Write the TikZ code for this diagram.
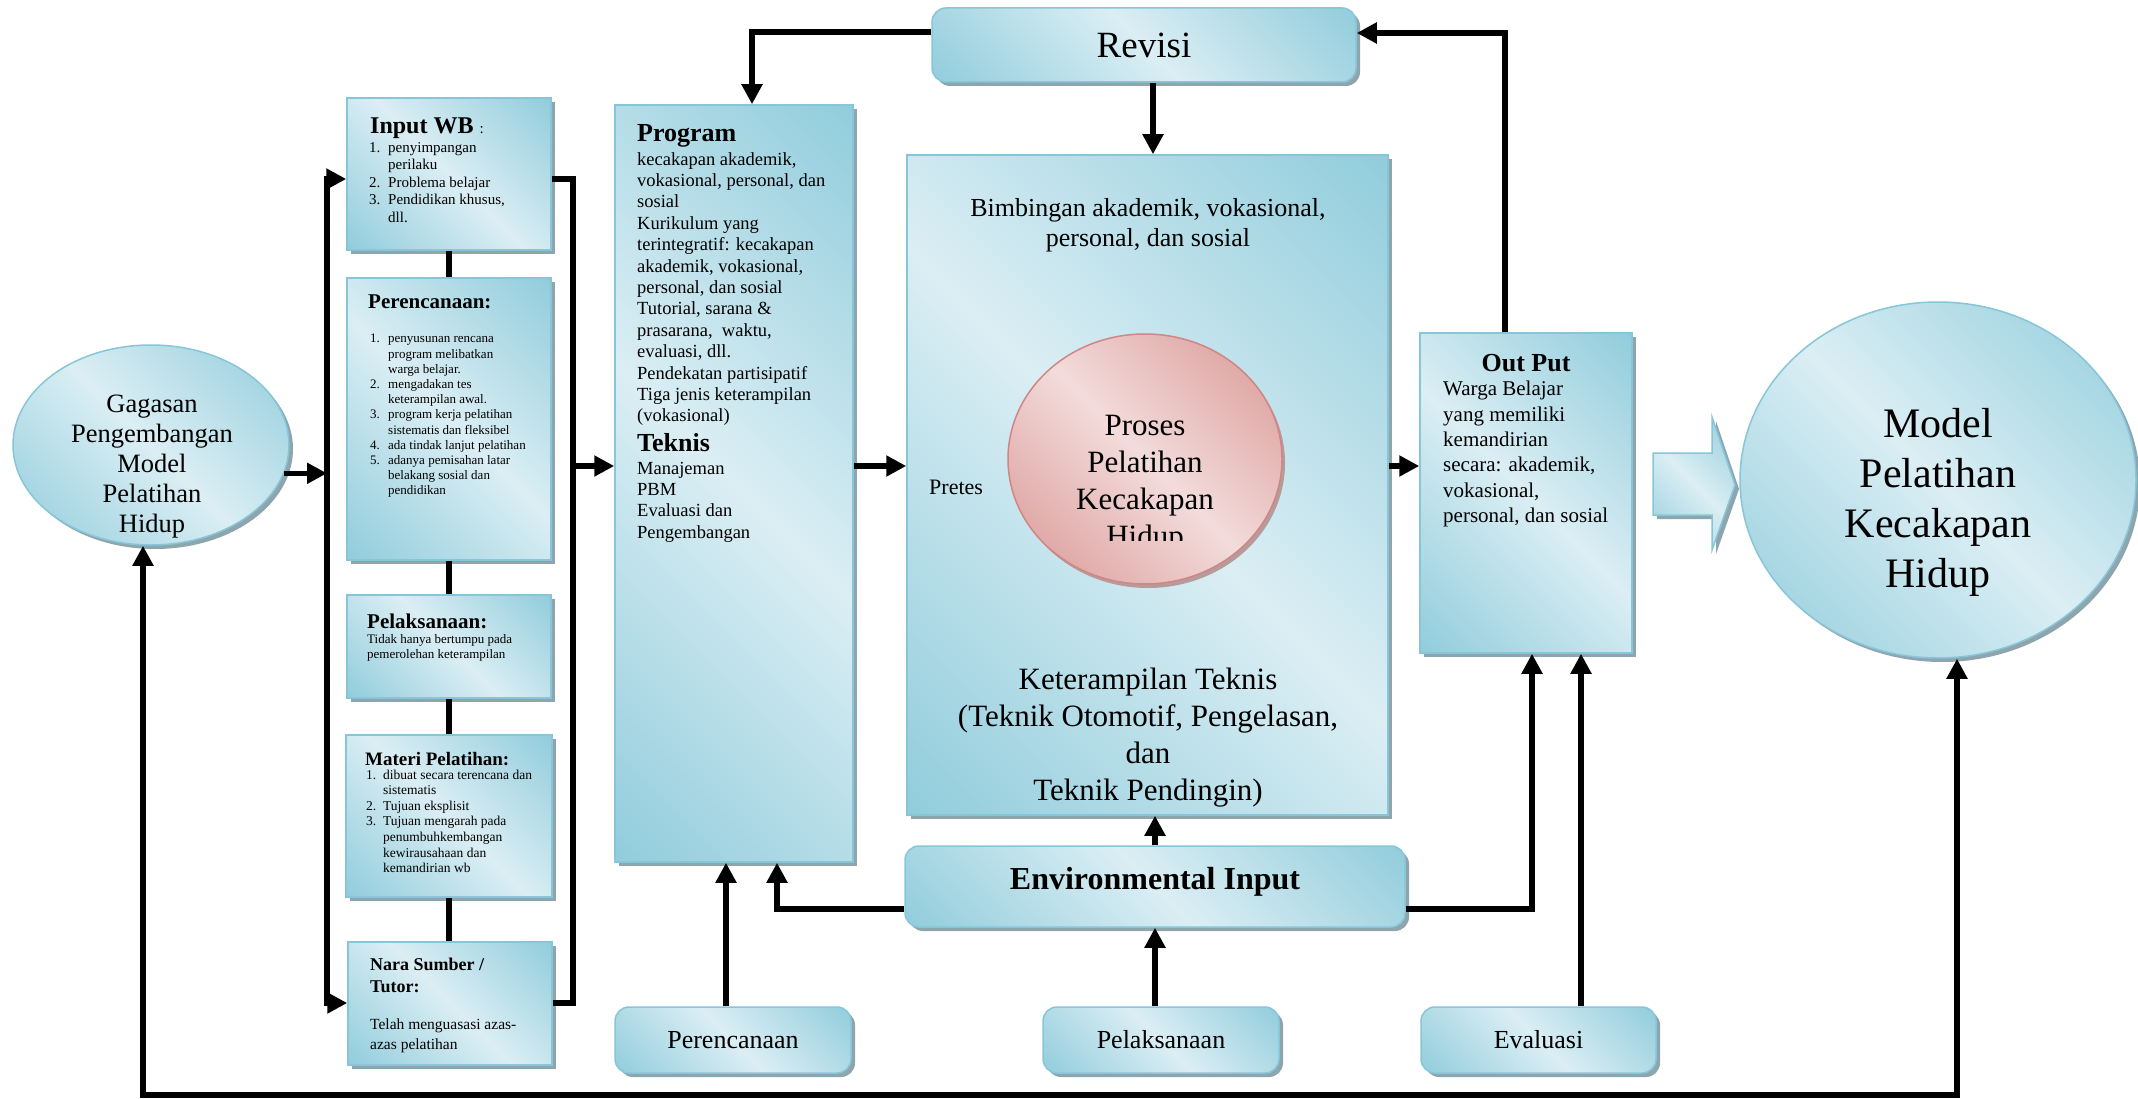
\documentclass[tikz,border=0pt]{standalone}
\usepackage{fontspec}
\setmainfont{Liberation Serif}
\usetikzlibrary{arrows.meta,shapes.geometric,shadows}
\definecolor{bdark}{HTML}{92CDDC}
\definecolor{blight}{HTML}{DBEEF4}
\definecolor{bord}{HTML}{86C6D8}
\definecolor{shadowc}{HTML}{8FA5AE}
\definecolor{pdark}{HTML}{D99694}
\definecolor{plight}{HTML}{F2DCDB}
\definecolor{pbord}{HTML}{D08684}
\definecolor{pshadow}{HTML}{B59C9C}
\pgfdeclarehorizontalshading{blueglass}{100bp}{color(0bp)=(bdark); color(15bp)=(bdark); color(50bp)=(blight); color(85bp)=(bdark); color(100bp)=(bdark)}
\pgfdeclarehorizontalshading{pinkglass}{100bp}{color(0bp)=(pdark); color(15bp)=(pdark); color(50bp)=(plight); color(85bp)=(pdark); color(100bp)=(pdark)}
\newcommand{\numitem}[2]{\makebox[#1][l]{#2}}
\newcommand{\setfs}[2]{\fontsize{#1}{#2}\selectfont}
\begin{document}
\begin{tikzpicture}[x=1pt,y=-1pt,
  >={Triangle[length=20pt,width=20pt]},
  glass/.style={shading=blueglass, shading angle=45, draw=bord, line width=1.5pt},
  sh/.style={drop shadow={shadow xshift=4pt, shadow yshift=-4pt, fill=shadowc, opacity=1}},
  boxr/.style={glass, sh, rectangle, inner sep=0pt},
  rbox/.style={boxr, rounded corners=14pt},
  oval/.style={glass, sh, ellipse, inner sep=0pt},
  wire/.style={line width=5.5pt},
  conn/.style={wire, ->},
  txt/.style={inner sep=0pt, align=left},
  ctxt/.style={inner sep=0pt, align=center}
]
\useasboundingbox (0,0) rectangle (2138,1099);

% ---------- boxes ----------
\node[oval, minimum width=276pt, minimum height=200pt] (gag) at (151,445) {};
\node[boxr, minimum width=204pt, minimum height=152pt] (inwb) at (449,174) {};
\node[boxr, minimum width=204pt, minimum height=282pt] (perenc) at (449,419) {};
\node[boxr, minimum width=204pt, minimum height=103pt] (pelak) at (449,646.5) {};
\node[boxr, minimum width=206pt, minimum height=162pt] (materi) at (449,816) {};
\node[boxr, minimum width=204pt, minimum height=123pt] (nara) at (450,1003.5) {};
\node[boxr, minimum width=238pt, minimum height=757pt] (prog) at (734,483.5) {};
\node[boxr, minimum width=481pt, minimum height=660pt] (cbox) at (1147.5,485) {};
\node[ellipse, inner sep=0pt, minimum width=274pt, minimum height=250pt,
      shading=pinkglass, shading angle=45, draw=pbord, line width=1.5pt,
      drop shadow={shadow xshift=3pt, shadow yshift=-4pt, fill=pshadow, opacity=1}] (proc) at (1145,459) {};
\node[boxr, minimum width=212pt, minimum height=320pt] (out) at (1526,493) {};
\node[rbox, minimum width=424pt, minimum height=74pt, font=\setfs{37}{42}] (rev) at (1144,45) {Revisi};
\node[rbox, minimum width=500pt, minimum height=81pt] (env) at (1155,886.5) {};
\node[rbox, minimum width=236pt, minimum height=66pt, font=\setfs{26}{30}] (per2) at (733,1040) {Perencanaan};
\node[rbox, minimum width=236pt, minimum height=66pt, font=\setfs{26}{30}] (pel2) at (1161,1040) {Pelaksanaan};
\node[rbox, minimum width=235pt, minimum height=66pt, font=\setfs{26}{30}] (eva) at (1538.5,1040) {Evaluasi};
\node[oval, minimum width=396pt, minimum height=356pt] (model) at (1938,480) {};
\path[glass, sh] (1653,453) -- (1712,453) -- (1712,417) -- (1735,485) -- (1712,550) -- (1712,515) -- (1653,515) -- cycle;

% ---------- texts ----------
\node[ctxt, font=\setfs{32}{36}\bfseries] (t-env) at (1155,882) {Environmental Input};
\node[ctxt, anchor=north, font=\setfs{26.5}{30}] (t-gag) at (152,391) {\strut Gagasan\\Pengembangan\\Model\\Pelatihan\\Hidup};
\node[ctxt, anchor=north, font=\setfs{42}{50}] (t-model) at (1938,402) {\strut Model\\Pelatihan\\Kecakapan\\Hidup};

\node[txt, anchor=base west, font=\setfs{24}{28}\bfseries] (t-inwb-h) at (370,134) {Input WB {\normalfont\setfs{15}{17}:}};
\node[txt, anchor=north west, font=\setfs{15}{17.5}] (t-inwb) at (369,140)
 {\strut\numitem{19pt}{1.}penyimpangan\\\hspace*{19pt}perilaku\\\numitem{19pt}{2.}Problema belajar\\\numitem{19pt}{3.}Pendidikan khusus,\\\hspace*{19pt}dll.};

\node[txt, anchor=base west, font=\setfs{21}{25}\bfseries] (t-per-h) at (368,308) {Perencanaan:};
\node[txt, anchor=north west, font=\setfs{13}{15.2}] (t-per) at (370,332)
 {\strut\numitem{18pt}{1.}penyusunan rencana\\\hspace*{18pt}program melibatkan\\\hspace*{18pt}warga belajar.\\\numitem{18pt}{2.}mengadakan tes\\\hspace*{18pt}keterampilan awal.\\\numitem{18pt}{3.}program kerja pelatihan\\\hspace*{18pt}sistematis dan fleksibel\\\numitem{18pt}{4.}ada tindak lanjut pelatihan\\\numitem{18pt}{5.}adanya pemisahan latar\\\hspace*{18pt}belakang sosial dan\\\hspace*{18pt}pendidikan};

\node[txt, anchor=base west, font=\setfs{21}{25}\bfseries] (t-pel-h) at (367,628) {Pelaksanaan:};
\node[txt, anchor=north west, font=\setfs{13}{15}] (t-pel) at (367,633)
 {\strut Tidak hanya bertumpu pada\\pemerolehan keterampilan};

\node[txt, anchor=base west, font=\setfs{19}{23}\bfseries] (t-mat-h) at (365,765) {Materi Pelatihan:};
\node[txt, anchor=north west, font=\setfs{13.5}{15.6}] (t-mat) at (366,768)
 {\strut\numitem{17pt}{1.}dibuat secara terencana dan\\\hspace*{17pt}sistematis\\\numitem{17pt}{2.}Tujuan eksplisit\\\numitem{17pt}{3.}Tujuan mengarah pada\\\hspace*{17pt}penumbuhkembangan\\\hspace*{17pt}kewirausahaan dan\\\hspace*{17pt}kemandirian wb};

\node[txt, anchor=north west, font=\setfs{18}{22}\bfseries] (t-nara-h) at (370,955) {\strut Nara Sumber /\\Tutor:};
\node[txt, anchor=north west, font=\setfs{15.5}{20}] (t-nara) at (370,1015) {\strut Telah menguasasi azas-\\azas pelatihan};

\node[txt, anchor=base west, font=\setfs{26}{30}\bfseries] (t-prog-h) at (637,142) {Program};
\node[txt, anchor=north west, font=\setfs{18.5}{21.4}] (t-prog) at (637,150)
 {\strut kecakapan akademik,\\vokasional, personal, dan\\sosial\\Kurikulum yang\\terintegratif: kecakapan\\akademik, vokasional,\\personal, dan sosial\\Tutorial, sarana \&\\prasarana,\ \ waktu,\\evaluasi, dll.\\Pendekatan partisipatif\\Tiga jenis keterampilan\\(vokasional)};
\node[txt, anchor=base west, font=\setfs{26}{30}\bfseries] (t-tek-h) at (637,451) {Teknis};
\node[txt, anchor=north west, font=\setfs{18.5}{21.4}] (t-tek) at (637,459)
 {\strut Manajeman\\PBM\\Evaluasi dan\\Pengembangan};

\node[ctxt, anchor=north, font=\setfs{26}{30}] (t-bimb) at (1148,195) {\strut Bimbingan akademik, vokasional,\\personal, dan sosial};
\node[ctxt, anchor=north, font=\setfs{31}{37}] (t-ket) at (1148,663) {\strut Keterampilan Teknis\\(Teknik Otomotif, Pengelasan,\\dan\\Teknik Pendingin)};
\node[txt, anchor=base west, font=\setfs{22}{26}] (t-pre) at (929,494) {Pretes};
\begin{scope}
\clip (1000,380) rectangle (1290,540);
\node[ctxt, anchor=north, font=\setfs{31}{37}] (t-proc) at (1145,409) {\strut Proses\\Pelatihan\\Kecakapan\\Hidup};
\end{scope}

\node[ctxt, anchor=base, font=\setfs{26}{30}\bfseries] (t-out-h) at (1526,371) {Out Put};
\node[txt, anchor=north west, font=\setfs{21}{25.3}] (t-out) at (1443,378)
 {\strut Warga Belajar\\yang memiliki\\kemandirian\\secara: akademik,\\vokasional,\\personal, dan sosial};

% ---------- connector helper coordinates ----------
\coordinate (lbt) at (327,179);
\coordinate (lbb) at (327,1003);
\coordinate (rbt) at (573,179);
\coordinate (rbb) at (573,1003);
\coordinate (rbm) at (573,466);
\coordinate (c1) at (752,32);
\coordinate (c2) at (1505,33);
\coordinate (c3) at (777,909);
\coordinate (c4) at (1532,909);
\coordinate (c5) at (1581,0);
\coordinate (c6) at (143,1095);
\coordinate (c7) at (1957,1095);
\coordinate (c8) at (726,0);
\coordinate (c9) at (1153,0);

% ---------- connectors ----------
\draw[conn] (gag.-12) -- (gag.-12 -| lbt);
\draw[wire, <->] (inwb.west |- lbt) -- (lbt) -- (lbb) -- (nara.west |- lbb);
\draw[wire] (inwb.east |- rbt) -- (rbt) -- (rbb) -- (nara.east |- rbb);
\draw[conn] (rbm) -- (prog.west |- rbm);
\draw[wire] (inwb.south) -- (perenc.north);
\draw[wire] (perenc.south) -- (pelak.north);
\draw[wire] (pelak.south) -- (materi.north);
\draw[wire] (materi.south) -- (materi.south |- nara.north);
\draw[conn] (prog.east |- rbm) -- (cbox.west |- rbm);
\draw[conn] (cbox.east |- rbm) -- (out.west |- rbm);
\draw[conn] (rev.west |- c1) -- (c1) -- (c1 |- prog.north);
\draw[conn] (rev.south -| c9) -- (c9 |- cbox.north);
\draw[conn] (c2 |- out.north) -- (c2) -- (rev.east |- c2);
\draw[conn] (env.north) -- (env.north |- cbox.south);
\draw[conn] (env.south |- pel2.north) -- (env.south);
\draw[conn] (per2.north -| c8) -- (c8 |- prog.south);
\draw[conn] (env.west |- c3) -- (c3) -- (c3 |- prog.south);
\draw[conn] (env.east |- c4) -- (c4) -- (c4 |- out.south);
\draw[conn] (c5 |- eva.north) -- (c5 |- out.south);
\draw[wire, <->] (c6 |- gag.south) -- (c6) -- (c7) -- (c7 |- model.south);
\end{tikzpicture}
\end{document}
